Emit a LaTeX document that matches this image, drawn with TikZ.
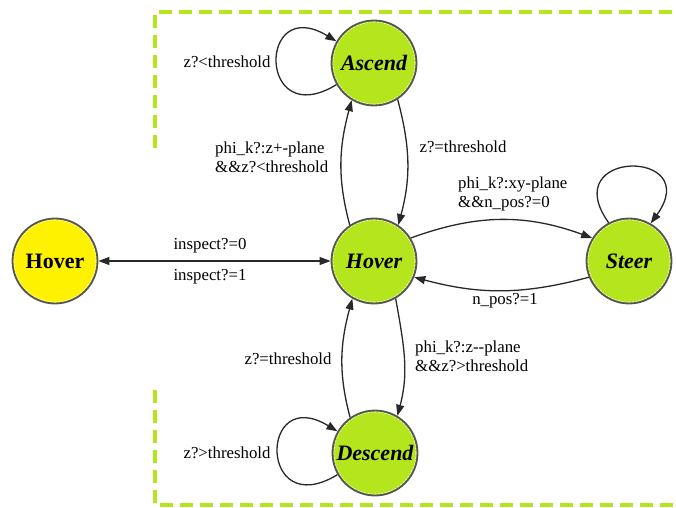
\documentclass[tikz,border=0pt]{standalone}
\usepackage{fontspec}
\setmainfont{Liberation Serif}
\usetikzlibrary{arrows.meta}
\definecolor{lime}{RGB}{181,230,29}
\definecolor{sun}{RGB}{255,242,0}
\definecolor{rim}{RGB}{85,85,85}
\definecolor{ink}{RGB}{40,40,40}

\begin{document}
\begin{tikzpicture}[x=1bp,y=1bp,
  >={Triangle[length=11bp,width=8bp]},
  state/.style={circle,draw=rim,line width=1.8bp,minimum size=85bp,inner sep=0pt,
    path picture={\draw[white,dash pattern=on 2bp off 1.5bp,line width=0.6bp]
      (path picture bounding box.center) circle (41bp);}},
  busy/.style={state,fill=lime,font=\fontsize{22bp}{24bp}\selectfont\bfseries\itshape},
  idle/.style={state,fill=sun,font=\fontsize{22bp}{24bp}\selectfont\bfseries},
  conn/.style={draw=ink,line width=1.3bp,->},
  lbl/.style={font=\fontsize{16.8bp}{19bp}\selectfont,inner sep=0pt,align=left},
  frame/.style={draw=lime,line width=3.5bp,dash pattern=on 13bp off 7bp}]

\useasboundingbox (0,0) rectangle (676,-508);

% dashed region borders
\draw[frame] (155,-148) -- (155,-12) -- (676,-12);
\draw[frame] (155,-390) -- (155,-505) -- (676,-505);

% states
\node[idle] (hl) at (55,-261) {Hover};
\node[busy] (hv) at (374,-261) {Hover};
\node[busy] (as) at (374,-63) {Ascend};
\node[busy] (ds) at (375,-453) {Descend};
\node[busy] (st) at (629,-261) {Steer};

% transitions
\draw[conn,<->] (hl) -- (hv);
\draw[conn] (hv.124) to[out=105,in=255] (as.239);
\draw[conn] (as.303) to[out=-75,in=75] (hv.56);
\draw[conn] (hv.32) to[out=20,in=160] (st.148);
\draw[conn] (st.202) to[out=195,in=-15] (hv.338);
\draw[conn] (ds.125) to[out=105,in=255] (hv.240);
\draw[conn] (hv.300) to[out=-80,in=75] (ds.59);

% self loops
\draw[conn] (as.210) .. controls +(-79,-48) and +(-79,48) .. (as.150);
\draw[conn] (ds.210) .. controls +(-79,-48) and +(-79,48) .. (ds.150);
\draw[conn] (st.118) .. controls +(-53,74) and +(54,75) .. (st.60);

% guards
\node[lbl] (g1) at (210,-246) {inspect?=0};
\node[lbl] (g2) at (210,-277) {inspect?=1};
\node[lbl] (g3) at (227,-62) {z?<threshold};
\node[lbl,anchor=west] (g4) at (215,-157) {phi\_k?:z+-plane\\\&\&z?<threshold};
\node[lbl] (g5) at (463,-147) {z?=threshold};
\node[lbl,anchor=west] (g6) at (458,-194) {phi\_k?:xy-plane\\\&\&n\_pos?=0};
\node[lbl] (g7) at (505,-301) {n\_pos?=1};
\node[lbl] (g8) at (288,-359) {z?=threshold};
\node[lbl,anchor=west] (g9) at (415,-356) {phi\_k?:z-{}-plane\\\&\&z?>threshold};
\node[lbl] (g10) at (227,-453) {z?>threshold};
\end{tikzpicture}
\end{document}
